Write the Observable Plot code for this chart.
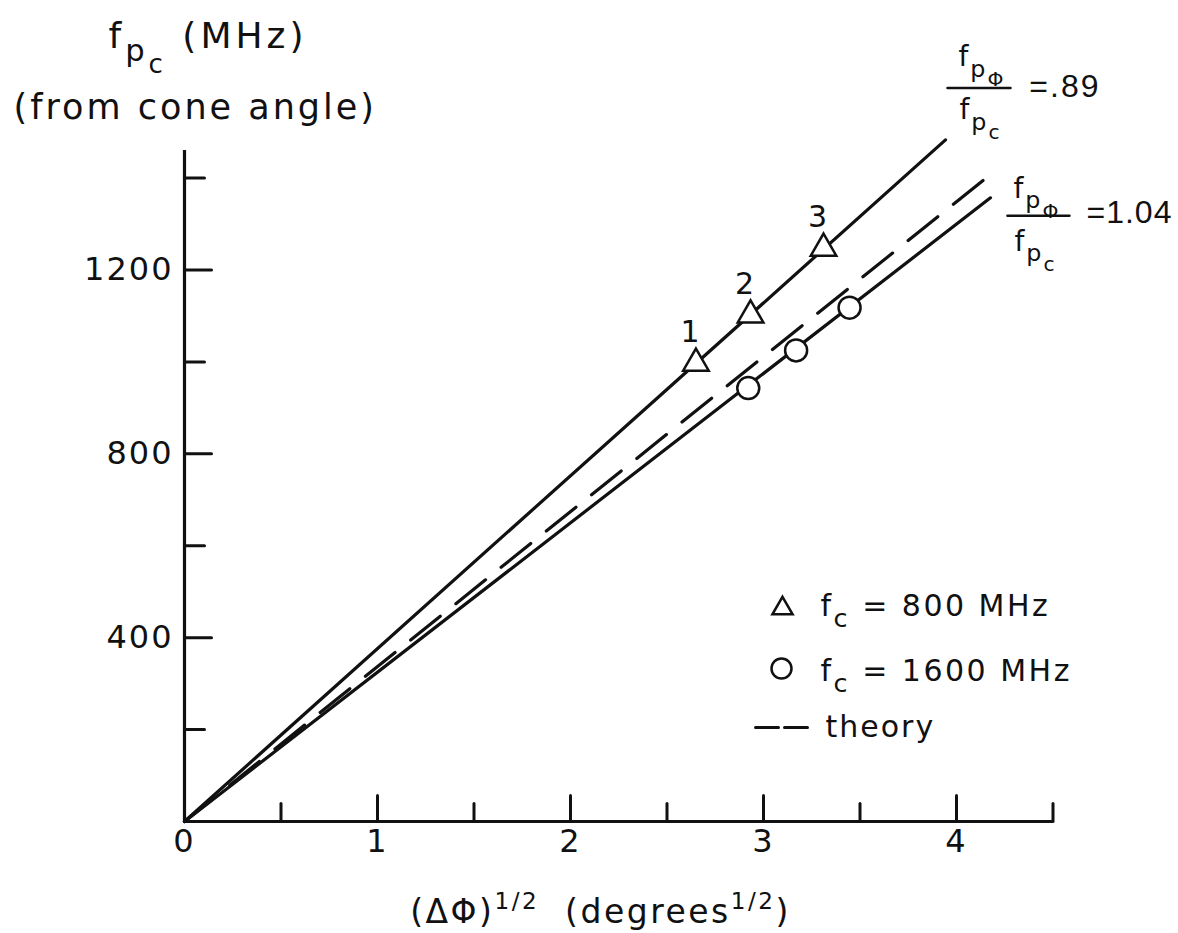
<!DOCTYPE html>
<html>
<head>
<meta charset="utf-8">
<script src="https://cdn.jsdelivr.net/npm/d3@7"></script>
<script src="https://cdn.jsdelivr.net/npm/@observablehq/plot@0.6"></script>
<style>
html, body { margin: 0; padding: 0; background: #fff; overflow: hidden; }
#chart svg text { letter-spacing: 2px; }
</style>
</head>
<body>
<div id="chart"></div>
<script>
// ---------------- data ----------------
const xTickLabels = [0, 1, 2, 3, 4];
const xTickMajor = [1, 2, 3, 4];
const xTickMinor = [0.5, 1.5, 2.5, 3.5, 4.5];
const yTickLabels = [400, 800, 1200];
const yTickMajor = [400, 800, 1200];
const yTickMinor = [200, 600, 1000, 1400];

// f_c = 800 MHz (triangles), numbered 1..3
const triX = [2.650, 2.933, 3.311];
const triY = [997, 1102, 1247];
const triLabels = ["1", "2", "3"];
// f_c = 1600 MHz (circles)
const circX = [2.921, 3.169, 3.446];
const circY = [943, 1025, 1118];

// fitted lines and theory (from origin)
const fitHighX = [0, 3.943], fitHighY = [0, 1483];   // f_pΦ/f_pc = .89
const theoryX  = [0, 4.138], theoryY  = [0, 1395];   // theory
const fitLowX  = [0, 4.176], fitLowY  = [0, 1357];   // f_pΦ/f_pc = 1.04
const ratioHigh = "=.89", ratioLow = "=1.04";

const yTitle1 = "f_{p_{c}} (MHz)";
const yTitle2 = "(from cone angle)";
const xTitle = "(ΔΦ)^{1/2}  (degrees^{1/2})";
const legendTri = "f_{c} = 800 MHz";
const legendCirc = "f_{c} = 1600 MHz";
const legendTheory = "theory";
const fracNum = "f_{p_{Φ}}";
const fracDen = "f_{p_{c}}";

// ---------------- layout ----------------
const W = 1178, H = 933, ML = 184, MR = 125.5, MT = 150, MB = 112;
const INK = "#111";
const stick = {draw(ctx, l) { ctx.moveTo(0, 0); ctx.lineTo(0, -l); }};
const at = (px, py) => ({frameAnchor: "top-left", dx: px - ML, dy: py - MT});
const pts = (xs, ys) => xs.map((x, i) => ({x, y: ys[i]}));
const T = (str, opts) => Plot.text([str], {text: d => d, fill: INK, lineAnchor: "bottom", ...opts});
const spacing = new Map([[yTitle1, "4px"], [yTitle2, "3px"], [xTitle, "2.5px"], [ratioHigh, "2px"], [ratioLow, "1px"], [legendTri, "2.5px"], [legendCirc, "2.5px"]]);

function fraction(px, py, o) {
  // o: offsets relative to the anchor point (line end)
  return [
    T(fracNum, {x: px, y: py, dx: o.numDx, dy: o.numDy, fontSize: 28, textAnchor: "start"}),
    Plot.vector([0], {x: px, y: py, dx: o.barDx, dy: o.barDy, length: o.barLen, rotate: 90, anchor: "start", shape: stick, stroke: INK, strokeWidth: 2.5}),
    T(fracDen, {x: px, y: py, dx: o.numDx + 1, dy: o.denDy, fontSize: 28, textAnchor: "start"}),
    T(o.ratio, {x: px, y: py, dx: o.eqDx, dy: o.eqDy, fontSize: 32, fontFamily: "Liberation Sans", textAnchor: "end", lineAnchor: "middle"})
  ];
}

const chart = Plot.plot({
  width: W, height: H,
  marginLeft: ML, marginRight: MR, marginTop: MT, marginBottom: MB,
  style: {fontFamily: "DejaVu Sans", fontSize: "32px", background: "#fff", color: INK},
  x: {domain: [0, 4.5]},
  y: {domain: [0, 1460]},
  marks: [
    // axes frame
    Plot.ruleX([0], {stroke: INK, strokeWidth: 3.2}),
    Plot.ruleY([0], {stroke: INK, strokeWidth: 3.2}),
    // inward ticks
    Plot.vector(xTickMajor, {x: d => d, y: 0, length: 26, rotate: 0, anchor: "start", shape: stick, stroke: INK, strokeWidth: 3}),
    Plot.vector(xTickMinor, {x: d => d, y: 0, length: 18, rotate: 0, anchor: "start", shape: stick, stroke: INK, strokeWidth: 3}),
    Plot.vector(yTickMajor, {x: 0, y: d => d, length: 27, rotate: 90, anchor: "start", shape: stick, stroke: INK, strokeWidth: 3}),
    Plot.vector(yTickMinor, {x: 0, y: d => d, length: 20, rotate: 90, anchor: "start", shape: stick, stroke: INK, strokeWidth: 3}),
    // tick labels
    Plot.axisX(xTickLabels, {tickSize: 0, tickPadding: 8, fontSize: 32, label: null, fill: INK, tickFormat: d => `${d}`}),
    Plot.axisY(yTickLabels, {tickSize: 0, tickPadding: 11, fontSize: 32, label: null, fill: INK, tickFormat: d => `${d}`}),
    // lines
    Plot.line(pts(fitHighX, fitHighY), {x: "x", y: "y", stroke: INK, strokeWidth: 3.2}),
    Plot.line(pts(theoryX, theoryY), {x: "x", y: "y", stroke: INK, strokeWidth: 3.2, strokeDasharray: "38,20"}),
    Plot.line(pts(fitLowX, fitLowY), {x: "x", y: "y", stroke: INK, strokeWidth: 3.2}),
    // points
    Plot.dot(pts(triX, triY), {x: "x", y: "y", symbol: "triangle", r: 9.5, fill: "#fff", stroke: INK, strokeWidth: 2.5}),
    Plot.dot(pts(circX, circY), {x: "x", y: "y", symbol: "circle", r: 11, fill: "#fff", stroke: INK, strokeWidth: 2.5}),
    Plot.text(triX.map((x, i) => ({x, y: triY[i], t: triLabels[i]})), {x: "x", y: "y", text: "t", dx: -5, dy: -31, fontSize: 30, fill: INK}),
    // ratio labels at the line ends
    ...fraction(fitHighX[1], fitHighY[1], {numDx: 13, numDy: -74, barDx: 2, barDy: -52, barLen: 63, denDy: -21, eqDx: 155, eqDy: -53, ratio: ratioHigh}),
    ...fraction(fitLowX[1], fitLowY[1], {numDx: 23, numDy: 0, barDx: 17, barDy: 18, barLen: 62, denDy: 53, eqDx: 182, eqDy: 15, ratio: ratioLow}),
    // axis titles
    T(yTitle1, {...at(108, 47), fontSize: 36, textAnchor: "start"}),
    T(yTitle2, {...at(13, 118), fontSize: 35, textAnchor: "start"}),
    T(xTitle, {...at(600, 922), fontSize: 33, textAnchor: "middle"}),
    // legend
    Plot.dot([0], {...at(782, 608), symbol: "triangle", r: 7.5, fill: "#fff", stroke: INK, strokeWidth: 2.5}),
    T(legendTri, {...at(820, 615), fontSize: 30, textAnchor: "start"}),
    Plot.dot([0], {...at(781, 668), symbol: "circle", r: 10, fill: "#fff", stroke: INK, strokeWidth: 2.5}),
    T(legendCirc, {...at(820, 680), fontSize: 30, textAnchor: "start"}),
    Plot.vector([0], {...at(755, 727), length: 52, rotate: 90, anchor: "start", shape: stick, stroke: INK, strokeWidth: 3, strokeDasharray: "23,6"}),
    T(legendTheory, {...at(825, 736), fontSize: 30, textAnchor: "start"})
  ]
});

document.getElementById("chart").appendChild(chart);

// rich text: ^{...} superscripts and _{...} subscripts -> tspans
function richify(svg) {
  svg.querySelectorAll("text").forEach(el => {
    const s = el.textContent;
    if (spacing.has(s)) el.style.letterSpacing = spacing.get(s);
    if (!/[\^_]\{/.test(s)) return;
    const fs = parseFloat(getComputedStyle(el).fontSize) || 30;
    const segs = [];
    const stack = [{off: 0, scale: 1}];
    let buf = "";
    const push = () => { if (buf) { const t = stack[stack.length - 1]; segs.push({t: buf, off: t.off, scale: t.scale}); buf = ""; } };
    for (let i = 0; i < s.length; i++) {
      const c = s[i];
      if ((c === "^" || c === "_") && s[i + 1] === "{") {
        push();
        const top = stack[stack.length - 1];
        const sz = top.scale * fs;
        const sup = c === "^";
        stack.push({off: top.off + (sup ? -0.42 : 0.38) * sz, scale: top.scale * (sup ? 0.7 : 0.85)});
        i++;
      } else if (c === "}" && stack.length > 1) {
        push(); stack.pop();
      } else buf += c;
    }
    push();
    while (el.firstChild) el.removeChild(el.firstChild);
    let cur = 0;
    for (const g of segs) {
      const ts = document.createElementNS("http://www.w3.org/2000/svg", "tspan");
      ts.textContent = g.t;
      ts.setAttribute("dy", (g.off - cur).toFixed(2));
      ts.setAttribute("font-size", (g.scale * fs).toFixed(2));
      cur = g.off;
      el.appendChild(ts);
    }
  });
}
richify(chart);
</script>
</body>
</html>
